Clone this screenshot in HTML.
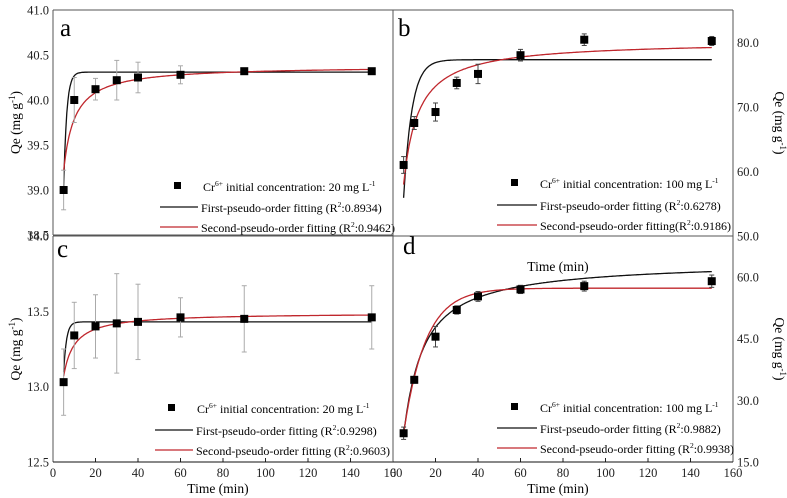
<!DOCTYPE html>
<html><head><meta charset="utf-8"><style>
body{margin:0;background:#fff;}
svg{display:block;font-family:"Liberation Serif",serif;}
</style></head><body>
<svg id="chart" width="787" height="498" viewBox="0 0 787 498" xmlns="http://www.w3.org/2000/svg"></svg>
<script>
// Data
const times = [5, 10, 20, 30, 40, 60, 90, 150];
const qA = [39.0, 40.0, 40.12, 40.22, 40.25, 40.28, 40.32, 40.32];
const errA = [0.22, 0.25, 0.12, 0.22, 0.17, 0.1, 0.02, 0.02];
const qB = [61.0, 67.5, 69.2, 73.7, 75.1, 78.0, 80.4, 80.2];
const errB = [1.3, 1.0, 1.4, 0.9, 1.5, 0.9, 0.9, 0.7];
const qC = [13.03, 13.34, 13.40, 13.42, 13.43, 13.46, 13.45, 13.46];
const errC = [0.22, 0.22, 0.21, 0.33, 0.25, 0.13, 0.22, 0.21];
const qD = [22.0, 35.0, 45.5, 52.0, 55.3, 57.0, 57.8, 59.0];
const errD = [1.5, 0.8, 2.5, 1.0, 1.2, 1.0, 1.2, 1.5];
// fit parameters: [qe, k]
const pfoA = [40.31, 0.69], psoA = [40.38, 0.166];
const pfoB = [77.3, 0.257], psoB = [80.2, 0.0065];
const pfoC = [13.43, 0.74], psoC = [13.49, 0.46];
const blackD = [64.0, 0.0024], redD = [57.3, 0.097];
const xTicks = [0, 20, 40, 60, 80, 100, 120, 140, 160];

const svg = document.getElementById('chart');
const NS = 'http://www.w3.org/2000/svg';
function mk(tag, attrs, parent) {
  const e = document.createElementNS(NS, tag);
  for (const k in attrs) e.setAttribute(k, attrs[k]);
  (parent || svg).appendChild(e);
  return e;
}
function pfo(p, t) { return p[0] * (1 - Math.exp(-p[1] * t)); }
function pso(p, t) { const a = p[1] * p[0] * t; return p[0] * a / (1 + a); }

const panels = [
  {id:'a', x0:53, x1:393, y0:10, y1:235, ymin:38.5, ymax:41.0, q:qA, e:errA, fb:t=>pfo(pfoA,t), fr:t=>pso(psoA,t), letter:[60,36], conc:'20', r1:'0.8934', r2:'0.9462', second:'Second-pseudo-order fitting (R', leg:{mx:178,my:186,lx0:160,lx1:198,ly:207}},
  {id:'b', x0:393, x1:733, y0:10, y1:236, ymin:50, ymax:85, q:qB, e:errB, fb:t=>pfo(pfoB,t), fr:t=>pso(psoB,t), letter:[398,36], conc:'100', r1:'0.6278', r2:'0.9186', second:'Second-pseudo-order fitting(R', leg:{mx:515,my:183,lx0:497,lx1:537,ly:205}},
  {id:'c', x0:53, x1:393, y0:236, y1:462, ymin:12.5, ymax:14.0, q:qC, e:errC, fb:t=>pfo(pfoC,t), fr:t=>pso(psoC,t), letter:[57,257], conc:'20', r1:'0.9298', r2:'0.9603', second:'Second-pseudo-order fitting (R', leg:{mx:172,my:408,lx0:155,lx1:193,ly:430}},
  {id:'d', x0:393, x1:733, y0:236, y1:462, ymin:15, ymax:70, q:qD, e:errD, fb:t=>pso(blackD,t)-14*Math.exp(-t/6), fr:t=>pfo(redD,t), letter:[403,254], conc:'100', r1:'0.9882', r2:'0.9938', second:'Second-pseudo-order fitting (R', leg:{mx:515,my:407,lx0:497,lx1:537,ly:428}}
];
const yTicks = {a:[38.5,39.0,39.5,40.0,40.5,41.0], b:[50,60,70,80], c:[12.5,13.0,13.5,14.0], d:[15,30,45,60]};

panels.forEach(P => {
  const g = mk('g', {});
  
  
  const X = t => P.x0 + (t / 160) * (P.x1 - P.x0);
  const Y = v => P.y1 - (v - P.ymin) / (P.ymax - P.ymin) * (P.y1 - P.y0);
  const right = P.id === 'b' || P.id === 'd';
  yTicks[P.id].forEach(v => {
    const lab = mk('text', {x: right ? 737 : 49, y: Y(v) + 4.5, 'font-size': 12.5, 'text-anchor': right ? 'start' : 'end', fill:'#222'}, g);
    lab.textContent = v.toFixed(1);
    
    
  });
  if (P.id === 'c' || P.id === 'd') {
    xTicks.forEach(t => {
      mk('line', {x1:X(t), x2:X(t), y1:462, y2:458, stroke:'#222', 'stroke-width':1}, g);
      const lab = mk('text', {x: X(t), y: 477, 'font-size': 12.5, 'text-anchor':'middle', fill:'#222'}, g);
      lab.textContent = t;
      
      
    });
    const xt = mk('text', {x: (P.x0+P.x1)/2 - 5, y: 493, 'font-size': 13.5, 'text-anchor':'middle'}, g);
    xt.textContent = 'Time (min)';
    
    
  }
  mk('line', {x1:P.x0, x2:P.x0, y1:P.y0, y2:P.y1, stroke:'#555'}, g);
  mk('line', {x1:P.x1, x2:P.x1, y1:P.y0, y2:P.y1, stroke:'#555'}, g);
  mk('line', {x1:P.x0, x2:P.x1, y1:P.y0, y2:P.y0, stroke:'#555'}, g);
  mk('line', {x1:P.x0, x2:P.x1, y1:P.y1, y2:P.y1, stroke: (P.id==='c'||P.id==='d')?'#111':'#555'}, g);
  [['fb','#111','first-order-fit'],['fr','#c0272d','second-order-fit']].forEach(([f,col,nm]) => {
    let d = '';
    for (let t = 5; t <= 150; t += 0.5) d += (t===5?'M':'L') + X(t).toFixed(1) + ',' + Y(P[f](t)).toFixed(1);
    const p = mk('path', {d, fill:'none', stroke:col, 'stroke-width':1.3}, g);
    
    
  });
  times.forEach((t, i) => {
    const v = P.q[i], er = P.e[i];
    const ec = (P.id==='b'||P.id==='d') ? '#444' : '#aaa';
    mk('line', {x1:X(t), x2:X(t), y1:Y(v+er), y2:Y(v-er), stroke:ec, 'stroke-width':1}, g);
    mk('line', {x1:X(t)-2.5, x2:X(t)+2.5, y1:Y(v+er), y2:Y(v+er), stroke:ec}, g);
    mk('line', {x1:X(t)-2.5, x2:X(t)+2.5, y1:Y(v-er), y2:Y(v-er), stroke:ec}, g);
    const r = mk('rect', {x:X(t)-4, y:Y(v)-4, width:8, height:8, fill:'#000'}, g);
    
    
  });
  const L = mk('text', {x:P.letter[0], y:P.letter[1], 'font-size':25}, g);
  L.textContent = P.id;
  
  
  const lg = P.leg;
  const lgG = mk('g', {}, g);
  
  
  mk('rect', {x:lg.mx-4, y:lg.my-4, width:7, height:7, fill:'#000'}, lgG);
  const t1 = mk('text', {x:lg.mx+25, y:lg.my+5, 'font-size':12}, lgG);
  t1.innerHTML = 'Cr<tspan font-size="7.5" dy="-5">6+</tspan><tspan dy="5"> initial concentration: ' + P.conc + ' mg L</tspan><tspan font-size="7.5" dy="-5">-1</tspan>';
  mk('line', {x1:lg.lx0, x2:lg.lx1, y1:lg.ly, y2:lg.ly, stroke:'#111', 'stroke-width':1.3}, lgG);
  mk('line', {x1:lg.lx0, x2:lg.lx1, y1:lg.ly+20, y2:lg.ly+20, stroke:'#c0272d', 'stroke-width':1.3}, lgG);
  const t2 = mk('text', {x:lg.lx1+3, y:lg.ly+5, 'font-size':12}, lgG);
  t2.innerHTML = 'First-pseudo-order fitting (R<tspan font-size="7.5" dy="-5">2</tspan><tspan dy="5">:' + P.r1 + ')</tspan>';
  const t3 = mk('text', {x:lg.lx1+3, y:lg.ly+25, 'font-size':12}, lgG);
  t3.innerHTML = P.second + '<tspan font-size="7.5" dy="-5">2</tspan><tspan dy="5">:' + P.r2 + ')</tspan>';
  const cy = (P.y0 + P.y1) / 2;
  const tx = right ? 775 : 20;
  const yt = mk('text', {x:tx, y:cy, 'font-size':13.5, 'text-anchor':'middle', transform:'rotate(' + (right?90:-90) + ' ' + tx + ' ' + cy + ')'}, g);
  yt.innerHTML = 'Qe (mg g<tspan font-size="9" dy="-5">-1</tspan><tspan dy="5">)</tspan>';
  
  
});
const tm = mk('text', {x:558, y:271, 'font-size':13.5, 'text-anchor':'middle'});
tm.textContent = 'Time (min)';


</script>
</body></html>
